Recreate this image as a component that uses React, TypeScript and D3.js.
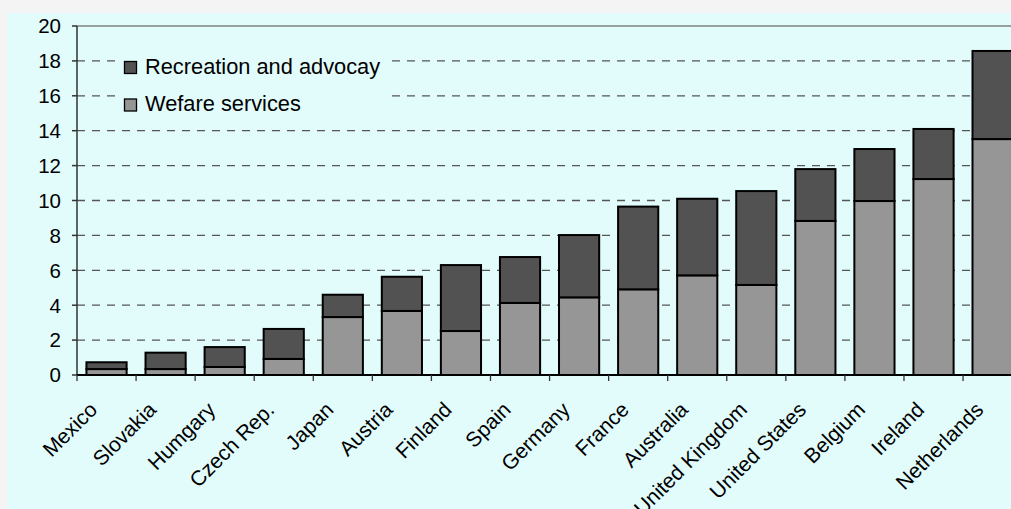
import { useEffect, useRef } from 'react';
import * as d3 from 'd3';

const countries = [
  'Mexico', 'Slovakia', 'Humgary', 'Czech Rep.', 'Japan', 'Austria', 'Finland', 'Spain',
  'Germany', 'France', 'Australia', 'United Kingdom', 'United States', 'Belgium', 'Ireland', 'Netherlands'
];
// welfare services (bottom)
const welfare = [0.34, 0.34, 0.46, 0.92, 3.32, 3.67, 2.52, 4.13, 4.45, 4.91, 5.71, 5.16, 8.83, 9.97, 11.23, 13.52];
// total (welfare + recreation)
const totals = [0.73, 1.28, 1.6, 2.64, 4.6, 5.63, 6.3, 6.76, 8.02, 9.65, 10.1, 10.54, 11.8, 12.95, 14.1, 18.57];
const recreation = totals.map((t, i) => t - welfare[i]);
const yTicks = [0, 2, 4, 6, 8, 10, 12, 14, 16, 18, 20];
const seriesNames = ['Recreation and advocay', 'Wefare services'];

const W = 1011;
const H = 509;
const FONT = '"Liberation Sans", Arial, sans-serif';

export default function App() {
  const svgRef = useRef<SVGSVGElement>(null);

  useEffect(() => {
    if (!svgRef.current) return;
    const svg = d3.select(svgRef.current);
    svg.selectAll('*').remove();

    svg.append('rect').attr('width', W).attr('height', H).attr('fill', '#f4f4f4');
    svg.append('rect').attr('x', 7).attr('y', 13).attr('width', W - 7).attr('height', H - 13).attr('fill', '#e2fcfc');

    const left = 77;
    const top = 26;
    const bottom = 375;
    const step = 59.07;

    const x = d3.scaleBand<string>()
      .domain(countries)
      .range([left, left + step * countries.length])
      .paddingInner(0.32)
      .paddingOuter(0.16);

    const y = d3.scaleLinear().domain([0, 20]).range([bottom, top]);

    // gridlines
    svg.append('g')
      .selectAll('line')
      .data(yTicks.filter(t => t > 0 && t < 20))
      .join('line')
      .attr('x1', left).attr('x2', W)
      .attr('y1', d => y(d)).attr('y2', d => y(d))
      .attr('stroke', '#555')
      .attr('stroke-width', 1.3)
      .attr('stroke-dasharray', '8,7');

    // top border
    svg.append('line')
      .attr('x1', left).attr('x2', W)
      .attr('y1', top).attr('y2', top)
      .attr('stroke', '#808080').attr('stroke-width', 1.5);

    // legend background
    svg.append('rect')
      .attr('x', 115).attr('y', 46).attr('width', 272).attr('height', 72)
      .attr('fill', '#e2fcfc');

    const legendColors = ['#525252', '#969696'];
    const lg = svg.append('g');
    seriesNames.forEach((name, i) => {
      const ly = 61 + i * 37.5;
      lg.append('rect')
        .attr('x', 124.5).attr('y', ly + 0.5).attr('width', 12).attr('height', 12)
        .attr('fill', legendColors[i]).attr('stroke', '#000').attr('stroke-width', 1.3);
      lg.append('text')
        .attr('x', 145).attr('y', ly + 12.5)
        .attr('font-family', FONT).attr('font-size', 21.8)
        .attr('fill', '#000')
        .text(name);
    });

    // bars
    const bars = svg.append('g');
    bars.selectAll('.welfare')
      .data(countries)
      .join('rect')
      .attr('class', 'welfare')
      .attr('x', d => x(d) || 0)
      .attr('y', (d, i) => y(welfare[i]))
      .attr('width', x.bandwidth())
      .attr('height', (d, i) => y(0) - y(welfare[i]))
      .attr('fill', '#969696')
      .attr('stroke', '#000')
      .attr('stroke-width', 2);

    bars.selectAll('.recreation')
      .data(countries)
      .join('rect')
      .attr('class', 'recreation')
      .attr('x', d => x(d) || 0)
      .attr('y', (d, i) => y(welfare[i] + recreation[i]))
      .attr('width', x.bandwidth())
      .attr('height', (d, i) => y(welfare[i]) - y(welfare[i] + recreation[i]))
      .attr('fill', '#525252')
      .attr('stroke', '#000')
      .attr('stroke-width', 2);

    // y axis
    svg.append('line')
      .attr('x1', left).attr('x2', left).attr('y1', top).attr('y2', bottom)
      .attr('stroke', '#333').attr('stroke-width', 1.5);
    const yg = svg.append('g');
    yg.selectAll('line')
      .data(yTicks)
      .join('line')
      .attr('x1', left - 5).attr('x2', left)
      .attr('y1', d => y(d)).attr('y2', d => y(d))
      .attr('stroke', '#333').attr('stroke-width', 1.5);
    yg.selectAll('text')
      .data(yTicks)
      .join('text')
      .attr('x', 61)
      .attr('y', d => y(d))
      .attr('dy', '0.36em')
      .attr('text-anchor', 'end')
      .attr('font-family', FONT).attr('font-size', 20.5)
      .attr('fill', '#000')
      .text(d => d);

    // x axis
    svg.append('line')
      .attr('x1', left).attr('x2', W).attr('y1', bottom).attr('y2', bottom)
      .attr('stroke', '#000').attr('stroke-width', 2);
    const boundaries = d3.range(countries.length + 1).map(i => left + i * x.step());
    svg.append('g')
      .selectAll('line')
      .data(boundaries)
      .join('line')
      .attr('x1', d => d).attr('x2', d => d)
      .attr('y1', bottom).attr('y2', bottom + 6)
      .attr('stroke', '#333').attr('stroke-width', 1.3);

    // category labels
    svg.append('g')
      .selectAll('text')
      .data(countries)
      .join('text')
      .attr('transform', d => `translate(${(x(d) || 0) + x.bandwidth() / 2 - 8},${bottom + 36}) rotate(-45)`)
      .attr('text-anchor', 'end')
      .attr('font-family', FONT).attr('font-size', 21)
      .attr('fill', '#000')
      .text(d => d);
  }, []);

  return (
    <svg
      ref={svgRef}
      width={W}
      height={H}
      style={{ position: 'absolute', left: 0, top: 0, display: 'block' }}
    />
  );
}
